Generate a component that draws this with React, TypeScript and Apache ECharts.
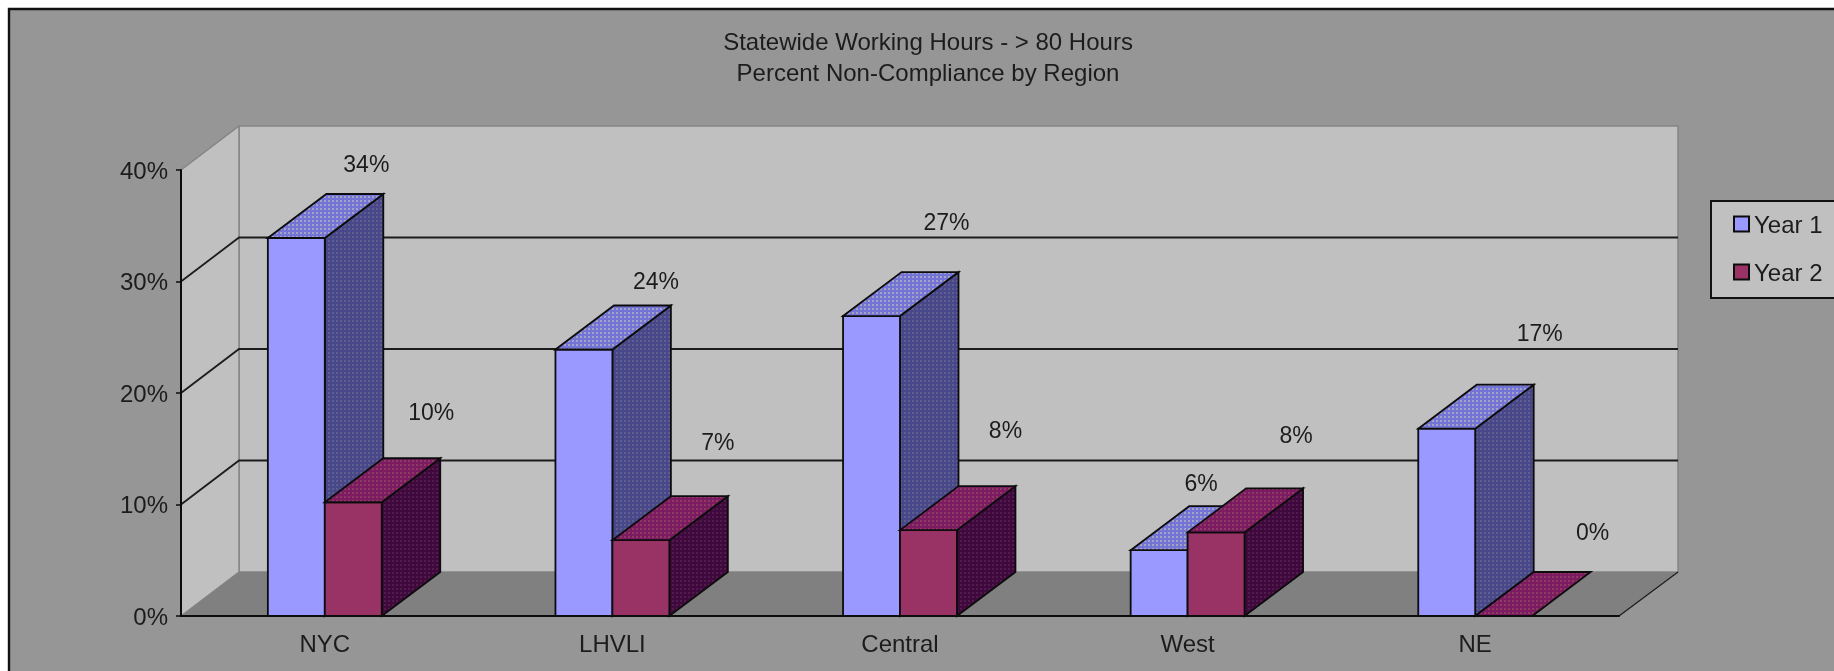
import React, { useEffect, useRef } from "react";
import * as echarts from "echarts";

const categories = ["NYC", "LHVLI", "Central", "West", "NE"];
const year1Values = [33.9, 23.9, 26.9, 5.9, 16.8];
const year2Values = [10.2, 6.8, 7.7, 7.5, 0];
const wallGridValues = [10, 20, 30];
const titleLines = ["Statewide Working Hours - > 80 Hours", "Percent Non-Compliance by Region"];

// Hand-placed label nudges of the original, relative to the top-front centre of each bar.
const year1LabelNudge = [[70, -74], [72, -69], [75, -94], [42, -67], [93, -96]];
const year2LabelNudge = [[78, -90], [77, -98], [77, -100], [80, -97], [89, -84]];

const FONT = '"Liberation Sans", Arial, sans-serif';
const TEXT = "#1c1c1c";
const EDGE = "#0c0c0c";
const DEPTH_X = 58;
const DEPTH_Y = 44;
const BAR_DEPTH_X = 58.5;
const BAR_SHARE = 0.198;

function tile(base: string, accent: string) {
  const c = document.createElement("canvas");
  c.width = 4;
  c.height = 4;
  const g = c.getContext("2d")!;
  g.fillStyle = base;
  g.fillRect(0, 0, 4, 4);
  g.fillStyle = accent;
  g.fillRect(0, 0, 2, 2);
  return { image: c.toDataURL(), repeat: "repeat", imageWidth: 4, imageHeight: 4 };
}

export default function App() {
  const ref = useRef<HTMLDivElement>(null);
  useEffect(() => {
    document.body.style.margin = "0";
    document.body.style.background = "#fff";
    const chart = echarts.init(ref.current!, undefined, { renderer: "svg" });

    const barSeries = (
      name: string,
      values: number[],
      nudges: number[][],
      side: 0 | 1,
      front: string,
      topFill: any,
      sideFill: any,
    ) => ({
      name,
      type: "custom",
      coordinateSystem: "cartesian2d",
      z: 3,
      itemStyle: { color: front, borderColor: EDGE, borderWidth: 2 },
      encode: { x: 0, y: 1 },
      data: values.map((v, i) => [i, v]),
      renderItem: (_p: any, api: any) => {
        const i = api.value(0);
        const v = api.value(1);
        const [cx, yTop] = api.coord([i, v]);
        const yBase = api.coord([i, 0])[1];
        const w = api.size([1, 0])[0] * BAR_SHARE;
        const l = cx - w + side * w;
        const r = l + w;
        const edge = { stroke: EDGE, lineWidth: 1.8 };
        const children: any[] = [];
        if (v > 0) {
          children.push({
            type: "polygon",
            shape: { points: [[r, yTop], [r + BAR_DEPTH_X, yTop - DEPTH_Y], [r + BAR_DEPTH_X, yBase - DEPTH_Y], [r, yBase]] },
            style: { fill: sideFill, ...edge },
          });
          children.push({
            type: "rect",
            shape: { x: l, y: yTop, width: w, height: yBase - yTop },
            style: { fill: front, ...edge },
          });
        }
        children.push({
          type: "polygon",
          shape: { points: [[l, yTop], [l + BAR_DEPTH_X, yTop - DEPTH_Y], [r + BAR_DEPTH_X, yTop - DEPTH_Y], [r, yTop]] },
          style: { fill: topFill, ...edge },
        });
        children.push({
          type: "text",
          x: (l + r) / 2 + nudges[i][0],
          y: yTop + nudges[i][1],
          style: { text: `${Math.round(v)}%`, fill: TEXT, font: `23px ${FONT}`, align: "center", verticalAlign: "middle" },
        });
        return { type: "group", children };
      },
    });

    chart.setOption({
      animation: false,
      backgroundColor: "#ffffff",
      graphic: [
        {
          type: "rect",
          shape: { x: 9, y: 9, width: 1840, height: 680 },
          style: { fill: "#969696", stroke: "#111111", lineWidth: 2.4 },
        },
      ],
      title: {
        text: titleLines.join("\n"),
        left: 923,
        top: 21,
        textAlign: "center",
        textStyle: { fontFamily: FONT, fontSize: 24, fontWeight: "normal", color: TEXT, lineHeight: 31 },
      },
      legend: {
        orient: "vertical",
        left: 1711,
        top: 201,
        data: [{ name: "Year 1", icon: "rect" }, { name: "Year 2", icon: "rect" }],
        backgroundColor: "#c0c0c0",
        borderColor: "#111111",
        borderWidth: 2,
        borderRadius: 0,
        padding: [11, 30, 14, 22],
        itemWidth: 15,
        itemHeight: 15,
        itemGap: 24,
        textStyle: { fontFamily: FONT, fontSize: 24, color: TEXT },
      },
      grid: { left: 181, right: 215, top: 170, bottom: 55 },
      xAxis: {
        type: "category",
        data: categories,
        z: 10,
        boundaryGap: true,
        axisLine: { lineStyle: { color: EDGE, width: 2 } },
        axisTick: { length: 5, lineStyle: { color: EDGE, width: 1.5 }, alignWithLabel: false },
        axisLabel: { fontFamily: FONT, fontSize: 24, color: TEXT, margin: 15 },
        splitLine: { show: false },
      },
      yAxis: {
        type: "value",
        min: 0,
        max: 40,
        interval: 10,
        z: 10,
        axisLine: { show: true, lineStyle: { color: EDGE, width: 2 } },
        axisTick: { show: true, length: 5, lineStyle: { color: EDGE, width: 1.5 } },
        axisLabel: { formatter: "{value}%", fontFamily: FONT, fontSize: 24, color: TEXT, margin: 13 },
        splitLine: { show: false },
      },
      series: [
        {
          name: "walls",
          type: "custom",
          coordinateSystem: "cartesian2d",
          silent: true,
          z: 1,
          data: [[0, 0]],
          encode: { x: 0, y: 1 },
          renderItem: (params: any, api: any) => {
            const { x, y, width, height } = params.coordSys;
            const bottom = y + height;
            const right = x + width;
            const children: any[] = [
              {
                type: "rect",
                shape: { x: x + DEPTH_X, y: y - DEPTH_Y, width: width + 1, height: height },
                style: { fill: "#c0c0c0", stroke: "#858585", lineWidth: 1.5 },
              },
              {
                type: "polygon",
                shape: { points: [[x, y], [x + DEPTH_X, y - DEPTH_Y], [x + DEPTH_X, bottom - DEPTH_Y], [x, bottom]] },
                style: { fill: "#c0c0c0", stroke: "#858585", lineWidth: 1.5 },
              },
              {
                type: "polygon",
                shape: { points: [[x, bottom], [x + DEPTH_X, bottom - DEPTH_Y], [right + DEPTH_X + 1, bottom - DEPTH_Y], [right, bottom]] },
                style: { fill: "#808080" },
              },
              {
                type: "line",
                shape: { x1: right, y1: bottom, x2: right + DEPTH_X + 1, y2: bottom - DEPTH_Y },
                style: { stroke: "#1c1c1c", lineWidth: 1.2 },
              },
            ];
            wallGridValues.forEach((g) => {
              const gy = api.coord([0, g])[1];
              children.push({
                type: "polyline",
                shape: { points: [[x, gy], [x + DEPTH_X, gy - DEPTH_Y], [right + DEPTH_X + 1, gy - DEPTH_Y]] },
                style: { fill: "none", stroke: "#1c1c1c", lineWidth: 1.8 },
              });
            });
            return { type: "group", children };
          },
        },
        barSeries("Year 1", year1Values, year1LabelNudge, 0, "#9999ff", tile("#7474d6", "#a3a3c4"), tile("#474789", "#5f5f8f")),
        barSeries("Year 2", year2Values, year2LabelNudge, 1, "#993366", tile("#7c1a62", "#8b3c60"), tile("#3e0a3e", "#551a4c")),
      ],
    });
    return () => chart.dispose();
  }, []);
  return (
    <div
      ref={ref}
      style={{ position: "absolute", left: 0, top: 0, width: 1834, height: 671, filter: "blur(0.6px)", overflow: "hidden" }}
    />
  );
}
